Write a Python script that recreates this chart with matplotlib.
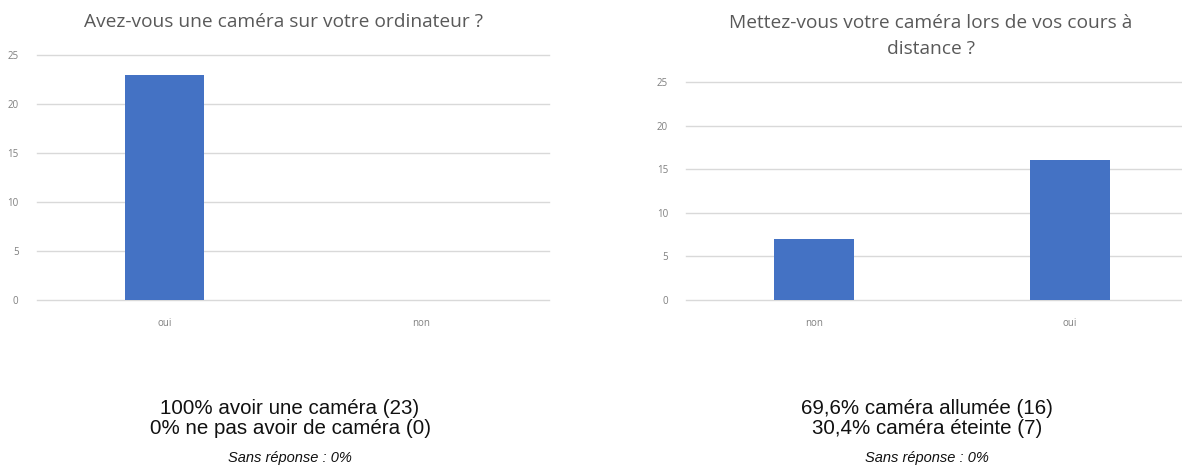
import matplotlib.pyplot as plt

# données des deux questions
q1_title = "Avez-vous une caméra sur votre ordinateur ?"
q1_cats = ["oui", "non"]
q1_vals = [23, 0]
q1_notes = ["100% avoir une caméra (23)", "0% ne pas avoir de caméra (0)"]

q2_title = "Mettez-vous votre caméra lors de vos cours à\ndistance ?"
q2_cats = ["non", "oui"]
q2_vals = [7, 16]
q2_notes = ["69,6% caméra allumée (16)", "30,4% caméra éteinte (7)"]

sans_rep = "Sans réponse : 0%"
y_ticks = [0, 5, 10, 15, 20, 25]

W, H = 1182, 466
fig = plt.figure(figsize=(W / 100, H / 100), dpi=100)

bar_color = "#4472C4"
grid_color = "#D9D9D9"
tick_color = "#7F7F7F"
title_color = "#595959"


def draw(ax, cats, vals):
    ax.bar(range(len(cats)), vals, width=0.31, color=bar_color, zorder=3)
    ax.set_xlim(-0.5, len(cats) - 0.5)
    ax.set_ylim(0, 25)
    ax.set_yticks(y_ticks)
    ax.set_xticks(range(len(cats)))
    ax.set_xticklabels(cats)
    ax.grid(axis="y", color=grid_color, linewidth=1.0, zorder=0)
    for gl in ax.get_ygridlines():
        gl.set_clip_on(False)
    for s in ax.spines.values():
        s.set_visible(False)
    ax.tick_params(length=0, labelsize=7, colors=tick_color, pad=13)
    ax.tick_params(axis="x", pad=13)
    for lab in ax.get_xticklabels() + ax.get_yticklabels():
        lab.set_family("Open Sans")


# graphique de gauche
ax1 = fig.add_axes([36.5 / W, 1 - 300 / H, 512.5 / W, 245 / H])
draw(ax1, q1_cats, q1_vals)

# graphique de droite (coupé sur le bord droit)
ax2 = fig.add_axes([686 / W, 1 - 300 / H, 512 / W, 218 / H])
draw(ax2, q2_cats, q2_vals)

fig.text(284 / W, 1 - 22 / H, q1_title, ha="center", va="center",
         fontsize=13.8, color=title_color, family="Open Sans")
fig.text(931 / W, 1 - 36 / H, q2_title, ha="center", va="center",
         fontsize=13.8, color=title_color, family="Open Sans", linespacing=1.5)

# commentaires sous les graphiques
for cx, notes in [(290, q1_notes), (927, q2_notes)]:
    fig.text(cx / W, 1 - 409 / H, notes[0], ha="center", va="center",
             fontsize=14.8, family="Liberation Sans", color="#111111")
    fig.text(cx / W, 1 - 428 / H, notes[1], ha="center", va="center",
             fontsize=14.8, family="Liberation Sans", color="#111111")
    fig.text(cx / W, 1 - 458 / H, sans_rep, ha="center", va="center",
             fontsize=10.5, style="italic", family="Liberation Sans", color="#111111")

fig.savefig("out.png", dpi=100)
